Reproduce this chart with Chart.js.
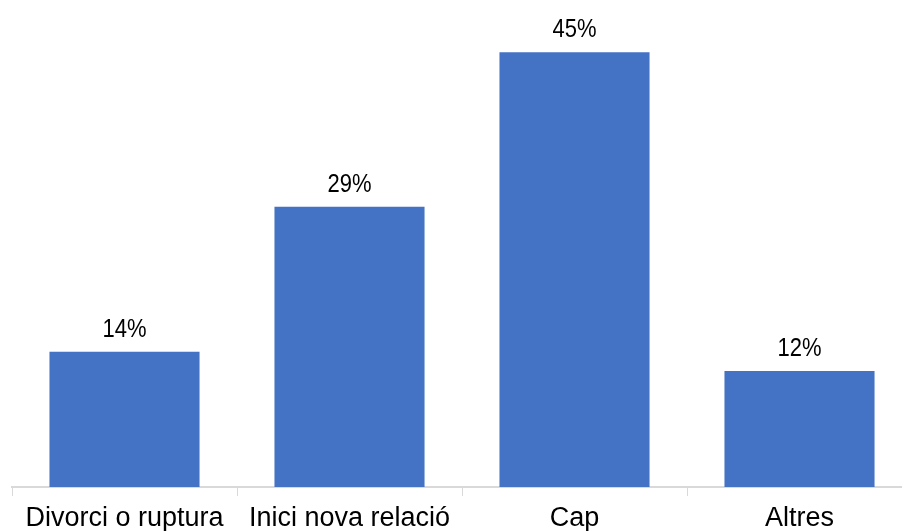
<!DOCTYPE html>
<html>
<head>
<meta charset="utf-8">
<script src="https://cdn.jsdelivr.net/npm/chart.js@4/dist/chart.umd.min.js"></script>
<style>
    html, body { margin: 0; padding: 0; background: #fff; overflow: hidden; }
    #wrap { position: relative; width: 914px; height: 531px; }
</style>
</head>
<body>
<div id="wrap"><canvas id="barChart"></canvas></div>
<script>
const categories = ['Divorci o ruptura', 'Inici nova relació', 'Cap', 'Altres'];
const values = [14, 29, 45, 12];

const BAR_COLOR = '#4472c4';
const FONT = "'Liberation Sans', Arial, sans-serif";

// etiquetes de percentatge damunt de cada barra
const valueLabels = {
    id: 'valueLabels',
    afterDatasetsDraw(chart) {
        const ctx = chart.ctx;
        const meta = chart.getDatasetMeta(0);
        ctx.save();
        ctx.font = '25px ' + FONT;
        ctx.fillStyle = '#000';
        ctx.textAlign = 'center';
        ctx.textBaseline = 'alphabetic';
        meta.data.forEach((bar, i) => {
            ctx.save();
            ctx.translate(bar.x, bar.y - 15);
            ctx.scale(0.88, 1);
            ctx.fillText(values[i] + '%', 0, 0);
            ctx.restore();
        });
        ctx.restore();
    }
};

window.addEventListener('DOMContentLoaded', () => {
    const ctx = document.getElementById('barChart').getContext('2d');
    new Chart(ctx, {
        type: 'bar',
        data: {
            labels: categories,
            datasets: [{
                data: values,
                backgroundColor: BAR_COLOR,
                borderWidth: 0,
                categoryPercentage: 1,
                barPercentage: 0.667
            }]
        },
        options: {
            responsive: true,
            maintainAspectRatio: false,
            animation: false,
            layout: { padding: { left: 12, right: 2, top: 4, bottom: 0 } },
            plugins: {
                legend: { display: false },
                tooltip: { enabled: false }
            },
            scales: {
                x: {
                    afterFit(scale) {
                        scale.height = 44;
                    },
                    grid: {
                        display: true,
                        offset: true,
                        drawOnChartArea: false,
                        drawTicks: true,
                        tickLength: 9,
                        color: '#d9d9d9',
                        lineWidth: 1
                    },
                    border: { display: true, color: '#d9d9d9', width: 2 },
                    ticks: {
                        color: '#000',
                        font: { family: FONT, size: 27, lineHeight: 0.8 },
                        padding: 12,
                        maxRotation: 0,
                        autoSkip: false
                    }
                },
                y: {
                    display: false,
                    min: 0,
                    max: 50
                }
            }
        },
        plugins: [valueLabels]
    });
});
</script>
</body>
</html>
